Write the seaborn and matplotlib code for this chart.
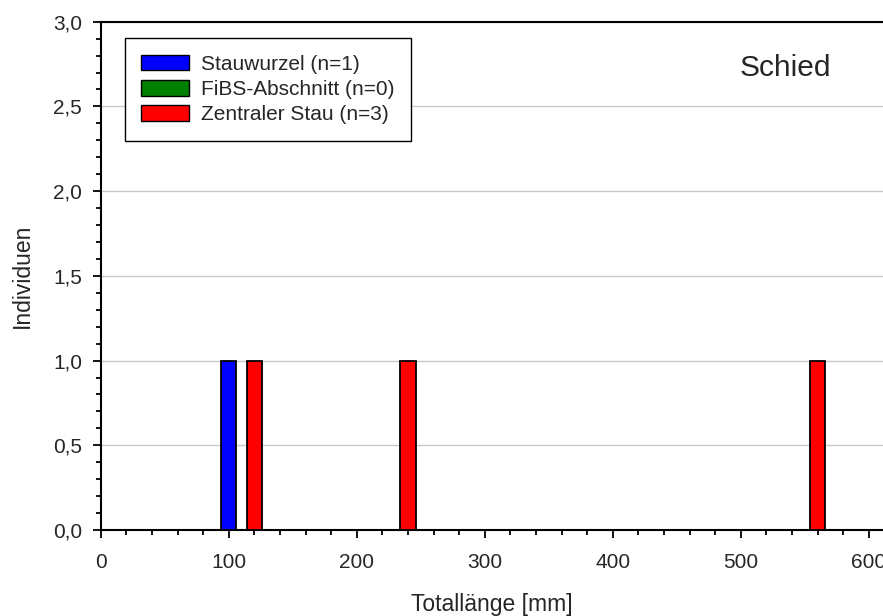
import matplotlib
matplotlib.use("Agg")
import matplotlib.pyplot as plt
from matplotlib.patches import Patch
from matplotlib.ticker import FixedLocator, MultipleLocator
import seaborn as sns
import pandas as pd

# ---- data ----
groups = ["Stauwurzel", "FiBS-Abschnitt", "Zentraler Stau"]
group_colors = ["#0000FF", "#007F00", "#FF0000"]
lengths = [100, 120, 240, 560]          # Totallänge [mm], bin centres
counts = [1, 1, 1, 1]                   # Individuen
bar_groups = ["Stauwurzel", "Zentraler Stau", "Zentraler Stau", "Zentraler Stau"]
y_ticks = [0.0, 0.5, 1.0, 1.5, 2.0, 2.5, 3.0]
y_tick_labels = ["0,0", "0,5", "1,0", "1,5", "2,0", "2,5", "3,0"]
x_ticks = [0, 100, 200, 300, 400, 500, 600]
x_tick_labels = ["0", "100", "200", "300", "400", "500", "600"]
title_text = "Schied"

df = pd.DataFrame({"Länge": lengths, "Anzahl": counts, "Gruppe": bar_groups})
palette = dict(zip(groups, group_colors))
n_per_group = {g: int(df.loc[df["Gruppe"] == g, "Anzahl"].sum()) for g in groups}

sns.set_style("white")
plt.rcParams["font.family"] = ["Liberation Sans", "DejaVu Sans"]

fig = plt.figure(figsize=(8.83, 6.16), dpi=100)
W, H = 883, 616
x0_px, y0_px, ytop_px = 100.7, 530.0, 21.7
ax = fig.add_axes([x0_px / W, 1 - y0_px / H, 1 - x0_px / W, (y0_px - ytop_px) / H])

# grid behind bars
ax.set_axisbelow(True)
ax.yaxis.grid(True, color="#c8c8c8", linewidth=1.0)
ax.xaxis.grid(False)

sns.barplot(data=df, x="Länge", y="Anzahl", hue="Gruppe", hue_order=groups,
            palette=palette, saturation=1, native_scale=True, dodge=False,
            width=0.6, errorbar=None, edgecolor="black", linewidth=1.3,
            legend=False, ax=ax, zorder=3)

ax.set_xlim(0, (W - x0_px) / 1.28)
ax.set_ylim(0, 3.0)

ax.xaxis.set_major_locator(FixedLocator(x_ticks))
ax.set_xticklabels(x_tick_labels)
ax.xaxis.set_minor_locator(MultipleLocator(20))
ax.yaxis.set_major_locator(FixedLocator(y_ticks))
ax.set_yticklabels(y_tick_labels)
ax.yaxis.set_minor_locator(MultipleLocator(0.1))

ax.tick_params(axis="both", which="major", direction="out", length=6, width=1.3,
               labelsize=15, color="black")
ax.tick_params(axis="both", which="minor", direction="out", length=3.5, width=1.3,
               color="black")
ax.tick_params(axis="x", which="major", pad=10.5)
ax.tick_params(axis="y", which="major", pad=7.5)
ax.tick_params(axis="both", which="both", bottom=True, left=True, top=False, right=False)

for side in ["left", "bottom", "top"]:
    ax.spines[side].set_visible(True)
    ax.spines[side].set_linewidth(1.5)
    ax.spines[side].set_color("black")
ax.spines["right"].set_visible(False)

ax.set_xlabel("Totallänge [mm]", fontsize=16.5, labelpad=15)
ax.set_ylabel("Individuen", fontsize=16.5, labelpad=14)

ax.text(535, 2.681, title_text, fontsize=21.5, ha="center", va="baseline")

handles = [Patch(facecolor=c, edgecolor="black", linewidth=1.0) for c in group_colors]
labels = [f"{g} (n={n_per_group[g]})" for g in groups]
leg = ax.legend(handles, labels, loc="upper left",
                bbox_to_anchor=(0.0307, 0.968), borderaxespad=0,
                fontsize=15, frameon=True, fancybox=False,
                edgecolor="black", framealpha=1, handlelength=2.3,
                handleheight=0.78, handletextpad=0.55, labelspacing=0.3,
                borderpad=0.8)
leg.get_frame().set_linewidth(1.0)

fig.savefig("out.png", dpi=100)
